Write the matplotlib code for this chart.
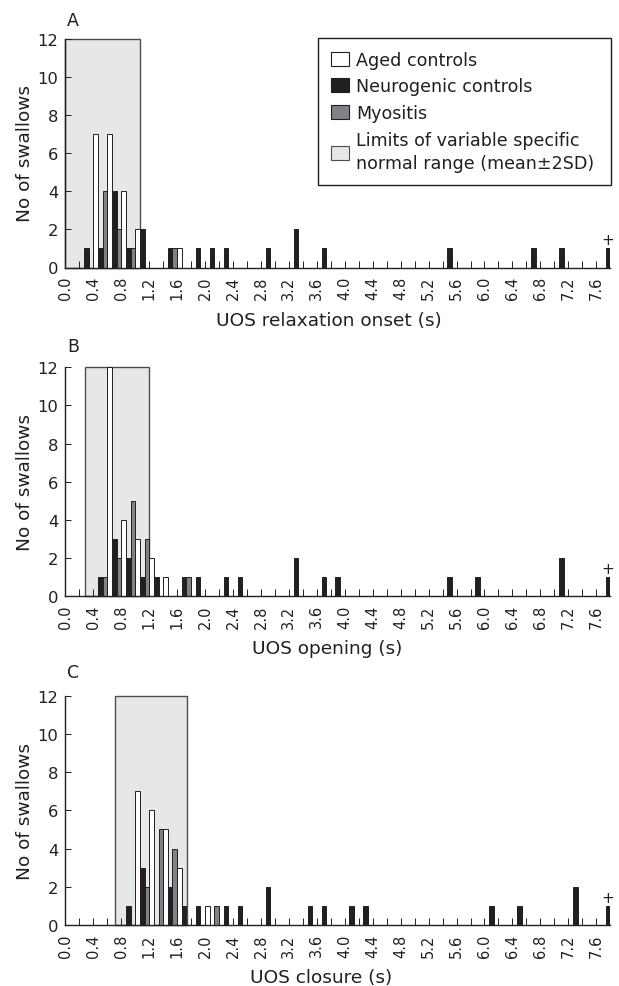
import numpy as np
import matplotlib
matplotlib.use('Agg')
import matplotlib.pyplot as plt
from matplotlib.patches import Patch

plt.rcParams['font.family'] = ['DejaVu Sans']

ink = '#231f20'
grey_myo = '#808285'
shade = '#e6e7e8'

# bin start (s) -> number of swallows, bins are 0.2 s wide
a_aged = {0.4: 7, 0.6: 7, 0.8: 4, 1.0: 2, 1.6: 1}
a_neuro = {0.2: 1, 0.4: 1, 0.6: 4, 0.8: 1, 1.0: 2, 1.4: 1, 1.8: 1, 2.0: 1, 2.2: 1,
           2.8: 1, 3.2: 2, 3.6: 1, 5.4: 1, 6.6: 1, 7.0: 1}
a_myo = {0.4: 4, 0.6: 2, 0.8: 1, 1.4: 1}
a_over = 1
a_norm = (0.0, 1.07)

b_aged = {0.6: 12, 0.8: 4, 1.0: 3, 1.2: 2, 1.4: 1}
b_neuro = {0.4: 1, 0.6: 3, 0.8: 2, 1.0: 1, 1.2: 1, 1.6: 1, 1.8: 1, 2.2: 1, 2.4: 1,
           3.2: 2, 3.6: 1, 3.8: 1, 5.4: 1, 5.8: 1, 7.0: 2}
b_myo = {0.4: 1, 0.6: 2, 0.8: 5, 1.0: 3, 1.6: 1}
b_over = 1
b_norm = (0.28, 1.20)

c_aged = {1.0: 7, 1.2: 6, 1.4: 5, 1.6: 3, 2.0: 1}
c_neuro = {0.8: 1, 1.0: 3, 1.4: 2, 1.6: 1, 1.8: 1, 2.2: 1, 2.4: 1, 2.8: 2, 3.4: 1,
           3.6: 1, 4.0: 1, 4.2: 1, 6.0: 1, 6.4: 1, 7.2: 2}
c_myo = {1.0: 2, 1.2: 5, 1.4: 4, 2.0: 1}
c_over = 1
c_norm = (0.71, 1.74)

over_bin = 7.6
bin_w = 0.2
slot = bin_w / 3


def draw_panel(ax, aged, neuro, myo, over, norm, xlabel, label_x):
    ax.axvspan(norm[0], norm[1], facecolor=shade, edgecolor='#4d4d4f', lw=1.0,
               zorder=0.2, clip_on=False)
    series = [(aged, 'white'), (neuro, ink), (myo, grey_myo)]
    for k, (d, col) in enumerate(series):
        xs = [b + slot * (k + 0.5) for b in d.keys()]
        ax.bar(xs, list(d.values()), width=slot, color=col, edgecolor=ink,
               lw=0.7, zorder=2)
    # values above 7.8 s lumped into the last slot
    ax.bar([over_bin + slot * 2.5], [over], width=slot, color=ink, edgecolor=ink,
           lw=0.7, zorder=2)
    ax.text(over_bin + slot * 2.5, over + 0.45, '+', ha='center', va='center',
            fontsize=11, color=ink)

    ax.set_xlim(0, 7.8)
    ax.set_ylim(0, 12)
    ticks = np.round(np.arange(0, 7.61, 0.2), 1)
    ax.set_xticks(ticks)
    ax.set_xticklabels(['%.1f' % t if i % 2 == 0 else '' for i, t in enumerate(ticks)],
                       rotation=90)
    ax.set_yticks(range(0, 13, 2))
    ax.tick_params(axis='x', direction='in', length=5, width=0.7, pad=6,
                   labelsize=10.5, colors=ink)
    ax.tick_params(axis='y', direction='in', length=4.5, width=0.7, pad=5,
                   labelsize=11.8, colors=ink)
    ax.set_axisbelow(True)
    for s in ['top', 'right']:
        ax.spines[s].set_visible(False)
    for s in ['left', 'bottom']:
        ax.spines[s].set_linewidth(1.0)
        ax.spines[s].set_color(ink)
    ax.set_xlabel(xlabel, fontsize=13.3, color=ink)
    ax.xaxis.set_label_coords(label_x, -0.188)
    ax.set_ylabel('No of swallows', fontsize=13.3, color=ink)
    ax.yaxis.set_label_coords(-0.058, 0.5)


fig = plt.figure(figsize=(6.19, 9.87), dpi=100)
W, H = 619.0, 987.0
left = 65.4 / W
width = 544.8 / W
ax_a = fig.add_axes([left, 1 - 268.5 / H, width, 229 / H])
ax_b = fig.add_axes([left, 1 - 597.0 / H, width, 228.7 / H])
ax_c = fig.add_axes([left, 1 - 926.0 / H, width, 229.3 / H])

draw_panel(ax_a, a_aged, a_neuro, a_myo, a_over, a_norm, 'UOS relaxation onset (s)', 0.483)
draw_panel(ax_b, b_aged, b_neuro, b_myo, b_over, b_norm, 'UOS opening (s)', 0.48)
draw_panel(ax_c, c_aged, c_neuro, c_myo, c_over, c_norm, 'UOS closure (s)', 0.47)

for letter, yc in [('A', 20.5), ('B', 347.5), ('C', 673)]:
    fig.text(67 / W, 1 - yc / H, letter, ha='left', va='center', fontsize=12.5, color=ink)

handles = [Patch(facecolor='white', edgecolor=ink, lw=0.8),
           Patch(facecolor=ink, edgecolor=ink, lw=0.8),
           Patch(facecolor=grey_myo, edgecolor=ink, lw=0.8),
           Patch(facecolor=shade, edgecolor='#4d4d4f', lw=0.8)]
labels = ['Aged controls', 'Neurogenic controls', 'Myositis',
          'Limits of variable specific\nnormal range (mean\u00b12SD)']
leg = ax_a.legend(handles, labels, loc='upper left',
                  bbox_to_anchor=(0.4637, 0.0, 0.538, 1.002), mode='expand',
                  borderaxespad=0, fontsize=12.6, frameon=True, fancybox=False,
                  edgecolor=ink, framealpha=1, handlelength=1.05, handleheight=0.85,
                  handletextpad=0.4, labelspacing=0.5, borderpad=0.72)
leg.get_frame().set_linewidth(1.0)
for t in leg.get_texts():
    t.set_color(ink)
    t.set_linespacing(1.4)

fig.savefig('out.png', dpi=100)
